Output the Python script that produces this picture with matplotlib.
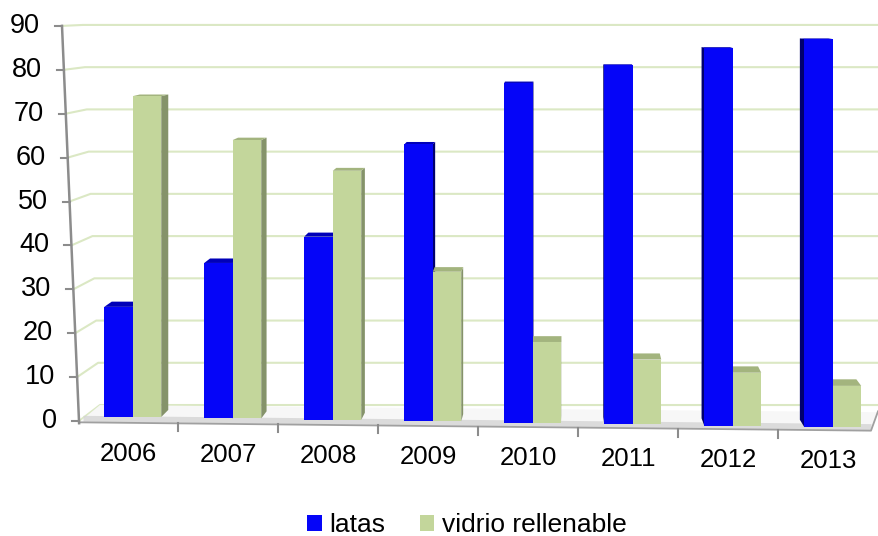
import numpy as np
import matplotlib.pyplot as plt
from matplotlib.patches import Polygon, Rectangle

plt.rcParams['font.family'] = ['Liberation Sans', 'DejaVu Sans']

# datos
years = ['2006', '2007', '2008', '2009', '2010', '2011', '2012', '2013']
latas = [26, 36, 42, 63, 77, 81, 85, 87]
vidrio = [74, 64, 57, 34, 18, 14, 11, 8]
yticks = list(range(0, 100, 10))

blue = ('#0505f8', '#0000b8', '#00006e')     # frente, arriba, lado
green = ('#c3d69b', '#a3b47e', '#85936a')

# escala: 100 px por categoria, 4.39 px por unidad
SX, SY = 100.0, 4.39
W, H = 879, 536
X0, Y0 = 128, 421          # pixel de la categoria 0 y del valor 0


def to_px(x, y):
    return X0 + x * SX, Y0 - y * SY


def to_data(px, py):
    return (px - X0) / SX, (Y0 - py) / SY


fig = plt.figure(figsize=(W / 100, H / 100), dpi=100)
ax = fig.add_axes([0, 0, 1, 1])
ax.set_xlim(to_data(0, 0)[0], to_data(W, 0)[0])
ax.set_ylim(to_data(0, H)[1], to_data(0, 0)[1])
ax.axis('off')


def axis_x(v):
    # eje vertical inclinado (perspectiva)
    return -0.49 - 0.17 * v / 90


def back_y(v):
    return 3.64 + 0.962 * v


def front_y(x):
    return -0.3 + (-1.9) * (x + 0.49) / 7.92


# pared del fondo: lineas de division
x_right = to_data(W, 0)[0]
for v in yticks:
    xa = axis_x(v)
    ax.plot([xa, xa + 0.21, x_right], [v, back_y(v), back_y(v)],
            color='#dbe8c4', lw=1.5, zorder=1, solid_capstyle='butt')

# suelo
floor = Polygon([(-0.49, -0.3), (7.43, -2.2), (7.5, 2.0), (-0.28, back_y(0))],
                closed=True, facecolor='#f7f7f7', edgecolor='none', zorder=1)
ax.add_patch(floor)
# sombra suave junto al borde delantero
xs = np.linspace(-0.45, 7.43, 50)
ax.fill_between(xs, front_y(xs) + 0.25, front_y(xs) + 1.6,
                color='#d4d4d4', alpha=0.8, lw=0, zorder=1)
ax.plot([-0.49, 7.43, 7.5], [-0.3, -2.2, 2.2], color='#a0a0a0', lw=1.3, zorder=2)

# eje vertical y marcas
ax.plot([axis_x(-0.5), axis_x(90)], [-0.5, 90], color='#8c8c8c', lw=1.8, zorder=3)
for v in yticks:
    xa = axis_x(v)
    ax.plot([xa - 0.07, xa], [v, v], color='#8c8c8c', lw=1.5, zorder=3)
    ax.text(xa - 0.22, v, str(v), ha='right', va='center', fontsize=19.5)

# marcas del eje de categorias
for b in np.arange(0.5, len(years) - 1, 1.0):
    y = front_y(b)
    ax.plot([b, b], [y, y - 8 / SY], color='#8c8c8c', lw=1.5, zorder=3)

for i, yr in enumerate(years):
    ax.text(i, front_y(i) - 31 / SY, yr, ha='center', va='center', fontsize=18.5)

# barras con caras laterales en perspectiva
VPX = 560
KD = 0.017


def bar3d(x0, x1, base, top, cols):
    front, topc, side = cols
    xc = (x0 + x1) / 2
    xcp, _ = to_px(xc, 0)
    dx = KD * (VPX - xcp) / SX
    _, tpy = to_px(0, top)
    dyt = KD * tpy / SY
    _, bpy = to_px(0, base)
    dyb = KD * bpy / SY
    sx = x1 if dx >= 0 else x0
    ax.add_patch(Polygon([(sx, base), (sx, top), (sx + dx, top + dyt), (sx + dx, base + dyb)],
                         closed=True, facecolor=side, edgecolor='none', zorder=4))
    ax.add_patch(Polygon([(x0, top), (x1, top), (x1 + dx, top + dyt), (x0 + dx, top + dyt)],
                         closed=True, facecolor=topc, edgecolor='none', zorder=4))
    ax.add_patch(Rectangle((x0, base), x1 - x0, top - base,
                           facecolor=front, edgecolor='none', zorder=5))


bw = 0.285
for i in range(len(years)):
    base = (421 - (417 + 10 * i / 7)) / SY
    items = [(i - 0.2375, latas[i], blue), (i + 0.0475, vidrio[i], green)]
    if X0 + i * SX > VPX:
        items = items[::-1]
    for x0, val, cols in items:
        bar3d(x0, x0 + bw, base, val, cols)

handles = [Rectangle((0, 0), 1, 1, facecolor=blue[0]),
           Rectangle((0, 0), 1, 1, facecolor=green[0])]
fig.legend(handles, ['latas', 'vidrio rellenable'], loc='center',
           bbox_to_anchor=(467 / W, 1 - 525 / H), ncol=2, frameon=False,
           fontsize=19, handlelength=0.55, handleheight=0.55,
           handletextpad=0.3, columnspacing=1.3)

fig.savefig('out.png', dpi=100)
